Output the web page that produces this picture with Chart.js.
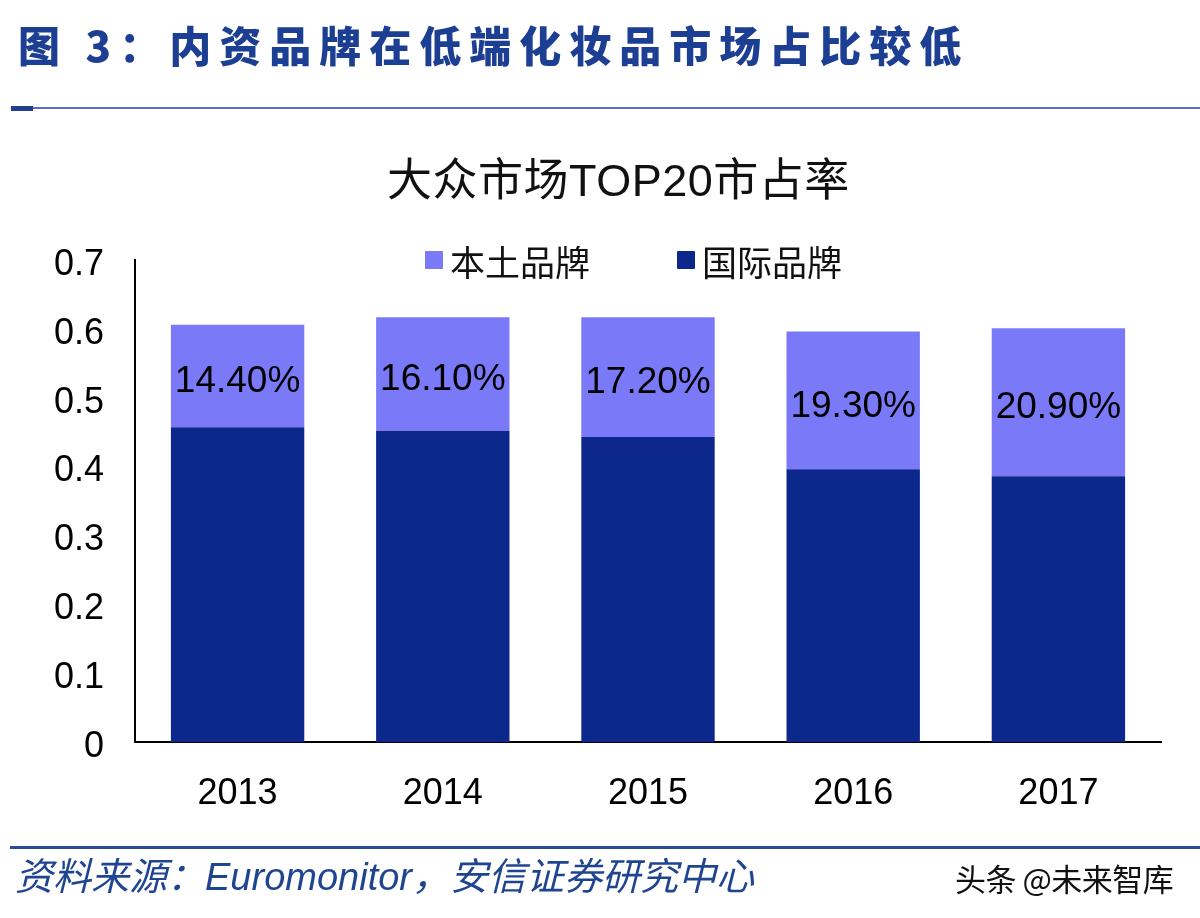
<!DOCTYPE html>
<html>
<head>
<meta charset="utf-8">
<script src="https://cdn.jsdelivr.net/npm/chart.js@4.4.0/dist/chart.umd.min.js"></script>
<style>
  html, body { margin: 0; padding: 0; background: #fff; }
  body { width: 1200px; height: 918px; overflow: hidden; position: relative; }
  #wrap { position: absolute; left: 0; top: 0; width: 1200px; height: 918px; }
  .header { position: absolute; left: 18px; top: 16px; font-family: "Noto Sans CJK SC", sans-serif; font-weight: 900;
            font-size: 42px; letter-spacing: 8px; color: #1c3f94; line-height: 56px; white-space: nowrap; }
  .hline { position: absolute; left: 11px; top: 107px; width: 1189px; height: 2px; background: #5b6cc4; }
  .hthick { position: absolute; left: 11px; top: 106px; width: 22px; height: 5px; background: #1f3f8f; }
  .ctitle { position: absolute; left: 387px; top: 153px; font-family: "Liberation Sans", "Noto Sans CJK SC", sans-serif;
            font-size: 45px; letter-spacing: 0.5px; color: #111; line-height: 56px; white-space: nowrap; }
  .legend { position: absolute; top: 238px; left: 0; width: 1200px; height: 44px; font-family: "Noto Sans CJK SC", sans-serif; font-size: 35px; color: #111; }
  .legend .item { position: absolute; top: 0; height: 44px; display: flex; align-items: center; white-space: nowrap; }
  .legend .sw { width: 18px; height: 18px; margin-right: 7px; border-radius: 1px; }
  .fline { position: absolute; left: 10px; top: 846px; width: 1190px; height: 3px; background: #2a4a9a; }
  .source { position: absolute; left: 15px; top: 854px; font-family: "Liberation Sans", "Noto Sans CJK SC", sans-serif; font-style: italic;
            font-size: 38px; color: #1f4591; line-height: 46px; white-space: nowrap; }
  .wm { position: absolute; left: 955px; top: 858px; font-family: "Noto Sans CJK SC", sans-serif; font-size: 31px; color: #111;
        line-height: 40px; white-space: nowrap; letter-spacing: -0.5px; }
</style>
</head>
<body>
<div id="wrap"><canvas id="c" width="1200" height="918"></canvas></div>
<div class="header">图 3：内资品牌在低端化妆品市场占比较低</div>
<div class="hline"></div>
<div class="hthick"></div>
<div class="ctitle">大众市场TOP20市占率</div>
<div class="legend" id="legend"></div>
<div class="fline"></div>
<div class="source">资料来源：Euromonitor，安信证券研究中心</div>
<div class="wm">头条 @未来智库</div>
<script>
// ---- data ----
const categories = ['2013', '2014', '2015', '2016', '2017'];
const seriesNames = ['本土品牌', '国际品牌'];
const localShare = [0.149, 0.165, 0.174, 0.200, 0.215];
const intlShare = [0.457, 0.452, 0.443, 0.396, 0.386];
const localLabels = ['14.40%', '16.10%', '17.20%', '19.30%', '20.90%'];
const yMin = 0, yMax = 0.7, yStep = 0.1;

const colorLocal = '#7a7af8';
const colorIntl = '#0c288c';

// legend (HTML)
const legendPos = [425, 677];
const legendColors = [colorLocal, colorIntl];
const legendEl = document.getElementById('legend');
seriesNames.forEach((n, i) => {
  const it = document.createElement('div');
  it.className = 'item';
  it.style.left = legendPos[i] + 'px';
  it.innerHTML = '<div class="sw" style="background:' + legendColors[i] + '"></div><span>' + n + '</span>';
  legendEl.appendChild(it);
});

const labelPlugin = {
  id: 'barLabels',
  afterDatasetsDraw(chart) {
    const ctx = chart.ctx;
    const meta = chart.getDatasetMeta(1);
    ctx.save();
    ctx.font = '37px "Liberation Sans", Arial, sans-serif';
    ctx.fillStyle = '#000';
    ctx.textAlign = 'center';
    ctx.textBaseline = 'middle';
    meta.data.forEach((bar, i) => {
      const p = bar.getProps(['x', 'y', 'base'], true);
      ctx.fillText(localLabels[i], p.x, (p.y + p.base) / 2 + 6);
    });
    ctx.restore();
  }
};

new Chart(document.getElementById('c'), {
  type: 'bar',
  data: {
    labels: categories,
    datasets: [
      { label: seriesNames[1], data: intlShare, backgroundColor: colorIntl, borderWidth: 0 },
      { label: seriesNames[0], data: localShare, backgroundColor: colorLocal, borderWidth: 0 }
    ]
  },
  options: {
    responsive: false,
    animation: false,
    devicePixelRatio: 1,
    layout: { padding: { left: 0, right: 39, top: 260, bottom: 76 } },
    plugins: { legend: { display: false }, title: { display: false }, tooltip: { enabled: false } },
    datasets: { bar: { categoryPercentage: 1.0, barPercentage: 0.65 } },
    scales: {
      x: {
        stacked: true,
        grid: { display: false, drawTicks: false },
        border: { display: true, color: '#000', width: 2 },
        ticks: { color: '#000', font: { family: '"Liberation Sans", Arial, sans-serif', size: 36 }, padding: 30 },
        afterFit(s) { s.height = 100; }
      },
      y: {
        stacked: true,
        min: yMin, max: yMax,
        grid: { display: false, drawTicks: false },
        border: { display: true, color: '#000', width: 2 },
        ticks: {
          stepSize: yStep,
          color: '#000',
          font: { family: '"Liberation Sans", Arial, sans-serif', size: 36, lineHeight: '10px' },
          padding: 31,
          // empty first line nudges each label a few px down, as in the reference
          callback: v => ['', String(Number(Number(v).toFixed(1)))]
        },
        afterFit(s) { s.width = 135; }
      }
    }
  },
  plugins: [labelPlugin]
});
</script>
</body>
</html>
